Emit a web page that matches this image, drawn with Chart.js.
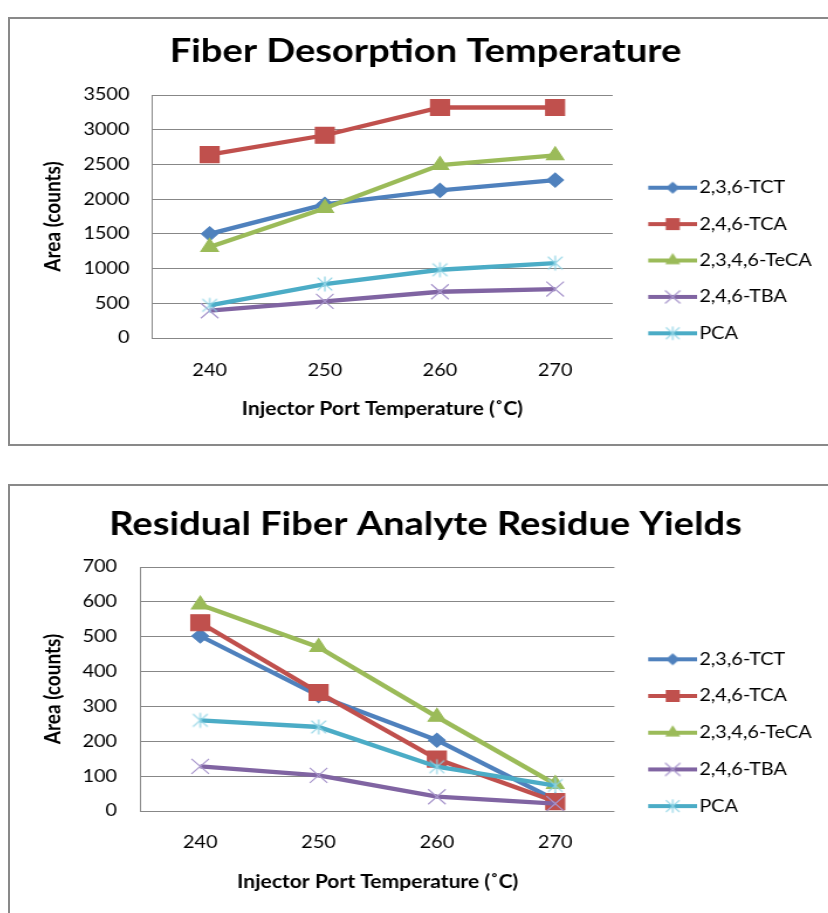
<!DOCTYPE html>
<html><head><meta charset="utf-8">
<script src="https://cdn.jsdelivr.net/npm/chart.js@4.4.1/dist/chart.umd.min.js"></script>
<style>
html,body{margin:0;padding:0;background:#fff;overflow:hidden;width:828px;height:913px;}
.frame{position:absolute;left:8px;border:2px solid #898989;background:#fff;width:831px;}
#f1{top:17px;height:425px;}
#f2{top:484px;height:430px;}
canvas{display:block;}
</style></head><body>
<div class="frame" id="f1"><canvas id="c1" width="710" height="425" style="width:830.7px;height:425px"></canvas></div>
<div class="frame" id="f2"><canvas id="c2" width="710" height="430" style="width:830.7px;height:430px"></canvas></div>
<script>
// ---- data ----
const categories = ['240', '250', '260', '270'];
const seriesNames = ['2,3,6-TCT', '2,4,6-TCA', '2,3,4,6-TeCA', '2,4,6-TBA', 'PCA'];

const desorpTCT  = [1500, 1925, 2125, 2275];
const desorpTCA  = [2640, 2920, 3320, 3320];
const desorpTeCA = [1310, 1870, 2490, 2630];
const desorpTBA  = [393, 527, 666, 705];
const desorpPCA  = [470, 777, 983, 1079];
const desorpTicks = [0, 500, 1000, 1500, 2000, 2500, 3000, 3500];

const residTCT  = [502, 331, 203, 32];
const residTCA  = [540, 340, 149, 27];
const residTeCA = [592, 470, 270, 77];
const residTBA  = [128, 102, 41, 21];
const residPCA  = [260, 241, 127, 73];
const residTicks = [0, 100, 200, 300, 400, 500, 600, 700];

const title1 = 'Fiber Desorption Temperature';
const title2 = 'Residual Fiber Analyte Residue Yields';
const xTitle = 'Injector Port Temperature (\u02DAC)';
const yTitle = 'Area (counts)';

// ---- styles ----
const SX = 1.17; // the picture is stretched horizontally
const CW = 710;  // internal canvas width
const lineColors = ['#4F81BD', '#C0504D', '#9BBB59', '#8064A2', '#4BACC6'];
const markColors = ['#4F81BD', '#C0504D', '#9BBB59', '#A896CC', '#8ED3E5'];
const gridColor = '#878787';
const LEG_FS = 17;

function asteriskCanvas(color, a, b) {
  const c = document.createElement('canvas');
  c.width = 20; c.height = 20;
  const g = c.getContext('2d');
  g.strokeStyle = color; g.lineWidth = 1.2;
  g.beginPath();
  g.moveTo(10 - a, 10 - a); g.lineTo(10 + a, 10 + a);
  g.moveTo(10 - a, 10 + a); g.lineTo(10 + a, 10 - a);
  g.moveTo(10, 10 - b); g.lineTo(10, 10 + b);
  g.stroke();
  return c;
}
const pcaMarker = asteriskCanvas(markColors[4], 6.3, 7.5);
const pointStyles = ['rectRot', 'rect', 'triangle', 'crossRot', pcaMarker];
const pointRadii = [7, 11.3, 8.5, 10.6, 8];

function drawMarker(g, i, x, y) {
  g.fillStyle = markColors[i]; g.strokeStyle = markColors[i]; g.lineWidth = 1.2;
  g.beginPath();
  if (i === 0) { const r = 6; g.moveTo(x, y - r); g.lineTo(x + r, y); g.lineTo(x, y + r); g.lineTo(x - r, y); g.closePath(); g.fill(); }
  else if (i === 1) { const h = 6; g.rect(x - h, y - h, 2 * h, 2 * h); g.fill(); }
  else if (i === 2) { const r = 7.4; g.moveTo(x, y - r); g.lineTo(x + r * 0.866, y + r / 2); g.lineTo(x - r * 0.866, y + r / 2); g.closePath(); g.fill(); }
  else if (i === 3) { const h = 6.5; g.moveTo(x - h, y - h); g.lineTo(x + h, y + h); g.moveTo(x - h, y + h); g.lineTo(x + h, y - h); g.stroke(); }
  else { const a = 5.8, b = 6.8; g.moveTo(x - a, y - a); g.lineTo(x + a, y + a); g.moveTo(x - a, y + a); g.lineTo(x + a, y - a); g.moveTo(x, y - b); g.lineTo(x, y + b); g.stroke(); }
}

function legendImages(legendLeft, pad, fs) {
  const toInt = p => (p - 10) / SX;
  const pw = toInt(699) - legendLeft - pad - fs / 2;
  const center = legendLeft + pad + pw / 2;
  const W = Math.round(2 * (toInt(697) - center));
  const left = center - W / 2;
  const x0 = toInt(648) - left;
  const mx = toInt(672.5) - left;
  const imgs = seriesNames.map((n, i) => {
    const c = document.createElement('canvas');
    c.width = W; c.height = 24;
    const g = c.getContext('2d');
    g.strokeStyle = lineColors[i]; g.lineWidth = 4;
    g.beginPath(); g.moveTo(x0, 12); g.lineTo(W, 12); g.stroke();
    drawMarker(g, i, mx, 12);
    return c;
  });
  return {pw, imgs};
}

const mctx = document.createElement('canvas').getContext('2d');
mctx.font = LEG_FS + 'px Lato';
const legendTextW = Math.max(...seriesNames.map(n => mctx.measureText(n).width));

function makeChart(id, series, ticks, T, g) {
  const fs = LEG_FS;
  const {pw, imgs} = legendImages(g.legendLeft, g.legendPad, fs);
  const legendW = g.legendPad + pw + fs / 2 + legendTextW + 2;
  const padR = Math.max(0, CW - g.legendLeft - legendW);
  const padL = padR;
  const datasets = series.map((vals, i) => ({
    label: seriesNames[i],
    data: vals,
    borderColor: lineColors[i],
    backgroundColor: lineColors[i],
    borderWidth: 4.3,
    tension: 0,
    order: 5 - i,
    pointStyle: pointStyles[i],
    pointRadius: pointRadii[i],
    pointBackgroundColor: markColors[i],
    pointBorderColor: markColors[i],
    pointBorderWidth: 1.2
  }));
  return new Chart(document.getElementById(id), {
    type: 'line',
    data: {labels: categories, datasets},
    options: {
      responsive: false, animation: false, events: [], devicePixelRatio: 1,
      layout: {padding: {left: padL, top: 0, bottom: 0, right: padR}},
      plugins: {
        tooltip: {enabled: false},
        title: {display: true, text: T, color: '#000',
          font: {family: 'Lato', weight: 'bold', size: 32.5, lineHeight: 1.2},
          padding: {top: g.titleTop, bottom: g.titleBottom}},
        legend: {
          position: 'right', align: 'center', maxWidth: legendW,
          title: {display: true, text: '', font: {size: 12, lineHeight: 1.2}, padding: {top: g.legendTitleH - 14.4, bottom: 0}},
          labels: {
            usePointStyle: true, pointStyleWidth: pw, padding: g.legendPad, color: '#000',
            font: {family: 'Lato', size: fs},
            generateLabels: (chart) => chart.data.datasets.map((ds, i) => ({
              text: ds.label, pointStyle: imgs[i], datasetIndex: i, hidden: false,
              fillStyle: 'transparent', strokeStyle: 'transparent', lineWidth: 0, fontColor: '#000'
            }))
          }
        }
      },
      scales: {
        x: {
          offset: true,
          grid: {display: false, drawTicks: false},
          border: {display: false},
          ticks: {color: '#000', font: {family: 'Lato', size: 17}, padding: g.xTickPad, maxRotation: 0},
          title: {display: true, text: xTitle, color: '#000',
            font: {family: 'Lato', weight: 'bold', size: 18, lineHeight: 1.2},
            padding: {top: 0, bottom: g.xTitleBottom}},
          afterFit: s => { s.height = g.xAxisH; }
        },
        y: {
          min: ticks[0], max: ticks[ticks.length - 1],
          grid: {color: gridColor, lineWidth: 1, drawTicks: false},
          border: {display: true, color: gridColor, width: 1},
          ticks: {stepSize: ticks[1] - ticks[0], color: '#000', font: {family: 'Lato', size: 17},
            padding: g.yTickPad, callback: v => String(v)},
          title: {display: true, text: yTitle, color: '#000',
            font: {family: 'Lato', weight: 'bold', size: 19, lineHeight: 1.2},
            padding: {top: Math.max(0, 36.8 - padL - 11.4), bottom: 0}},
          afterFit: s => { s.width = g.yAxisW - padL; }
        }
      }
    }
  });
}

makeChart('c1', [desorpTCT, desorpTCA, desorpTeCA, desorpTBA, desorpPCA], desorpTicks, title1, {
  legendLeft: (612.5 - 10) / SX, legendPad: 19.4, legendTitleH: 58,
  titleTop: 13.5, titleBottom: 23.5,
  xTickPad: 22.8, xTitleBottom: 24.2, xAxisH: 106,
  yTickPad: 19.3, yAxisW: (152 - 10) / SX
});
makeChart('c2', [residTCT, residTCA, residTeCA, residTBA, residPCA], residTicks, title2, {
  legendLeft: (614.2 - 10) / SX, legendPad: 19.7, legendTitleH: 63.4,
  titleTop: 19.5, titleBottom: 22.5,
  xTickPad: 21.2, xTitleBottom: 23.5, xAxisH: 105,
  yTickPad: 20.5, yAxisW: (141 - 10) / SX
});
</script>
</body></html>
